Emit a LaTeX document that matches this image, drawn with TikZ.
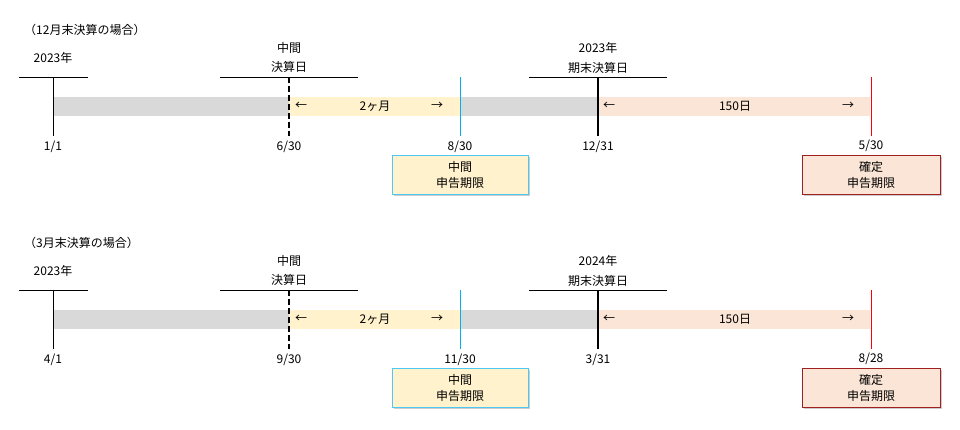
\documentclass[tikz,border=0pt]{standalone}
\usepackage{fontspec}
\setmainfont{Noto Sans CJK JP}
\usetikzlibrary{shadows}
\definecolor{barg}{HTML}{D9D9D9}
\definecolor{bary}{HTML}{FFF2CC}
\definecolor{barp}{HTML}{FBE5D6}
\definecolor{blu}{HTML}{00B0F0}
\definecolor{rd}{HTML}{FF0000}
\definecolor{drd}{HTML}{A02020}
\tikzset{
 lbl/.style={font=\fontsize{12}{14}\selectfont, inner sep=0pt},
 tl/.style={line width=0.8pt},
 box/.style={lbl, minimum width=136pt, minimum height=39pt, align=center, line width=1pt, drop shadow={shadow xshift=2pt, shadow yshift=-2pt, opacity=0.4}},
}
\begin{document}
\begin{tikzpicture}[x=1pt,y=-1pt]
\useasboundingbox (0,0) rectangle (960,429);
\foreach \dy/\title/\ya/\yb/\dz/\da/\db/\dc/\dd in {0/（12月末決算の場合）/2023年/2023年/1\slash 1/6\slash 30/8\slash 30/12\slash 31/5\slash 30, 213/（3月末決算の場合）/2023年/2024年/4\slash 1/9\slash 30/11\slash 30/3\slash 31/8\slash 28}{
 \begin{scope}[yshift=-\dy pt]
 \node[lbl, anchor=west] (t) at (24,30) {\title};
 \fill[barg] (53,97) rectangle (598,116);
 \fill[bary] (289,97) rectangle (460,116);
 \fill[barp] (598,97) rectangle (870,116);
 \node[lbl] (ar1) at (301,106) {←};
 \node[lbl] (m2) at (375,106) {2ヶ月};
 \node[lbl] (ar2) at (437,106) {→};
 \node[lbl] (ar3) at (609,106) {←};
 \node[lbl] (d150) at (735,106) {150日};
 \node[lbl] (ar4) at (848,106) {→};
 \node[lbl] (y0) at (53,58) {\ya};
 \coordinate (h0a) at (19,77); \coordinate (h0b) at (88,77);
 \draw[tl] (h0a) -- (h0b);
 \coordinate (v0a) at (53,77); \coordinate (v0b) at (53,136);
 \draw[tl] (v0a) -- (v0b);
 \node[lbl] (s0) at (53,147) {\dz};
 \node[lbl] (c1) at (289,48) {中間};
 \node[lbl] (c2) at (289,67) {決算日};
 \coordinate (h1a) at (220,77); \coordinate (h1b) at (358,77);
 \draw[tl] (h1a) -- (h1b);
 \coordinate (v1a) at (289,77); \coordinate (v1b) at (289,136);
 \draw[line width=2pt, dash pattern=on 6pt off 3pt] (v1a) -- (v1b);
 \node[lbl] (s1) at (289,147) {\da};
 \coordinate (v2a) at (460,77); \coordinate (v2b) at (460,136);
 \draw[blu, line width=1pt] (v2a) -- (v2b);
 \node[lbl] (s2) at (460,147) {\db};
 \node[box, draw=blu!70, fill=bary] (bx1) at (460,174.5) {中間\\[2pt]申告期限};
 \node[lbl] (c3) at (598,48) {\yb};
 \node[lbl] (c4) at (598,68) {期末決算日};
 \coordinate (h3a) at (529,77); \coordinate (h3b) at (667,77);
 \draw[tl] (h3a) -- (h3b);
 \coordinate (v3a) at (598,77); \coordinate (v3b) at (598,136);
 \draw[line width=2.5pt] (v3a) -- (v3b);
 \node[lbl] (s3) at (598,147) {\dc};
 \coordinate (v4a) at (871,77); \coordinate (v4b) at (871,136);
 \draw[rd, line width=1pt] (v4a) -- (v4b);
 \node[lbl] (s4) at (871,146) {\dd};
 \node[box, draw=drd, fill=barp, minimum width=138pt] (bx2) at (871,174.5) {確定\\[2pt]申告期限};
 \end{scope}
}
\end{tikzpicture}
\end{document}
